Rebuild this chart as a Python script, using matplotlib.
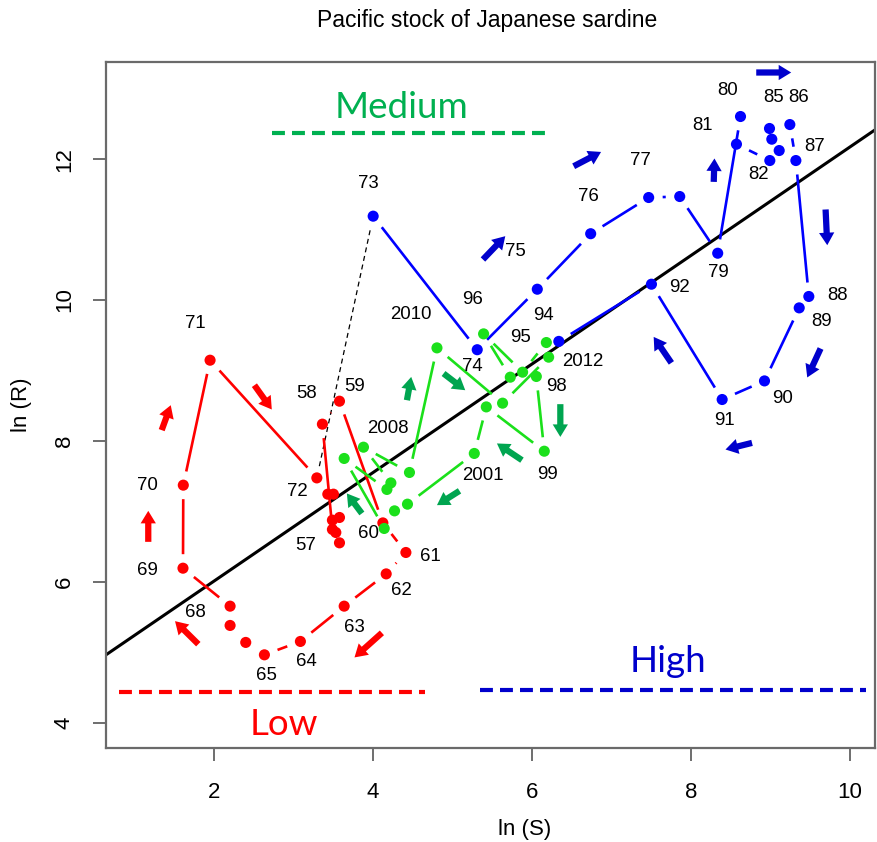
import matplotlib
matplotlib.use("Agg")
import matplotlib.pyplot as plt
import numpy as np
from matplotlib.patches import FancyArrowPatch

# ---- Pacific stock of Japanese sardine: ln(spawning stock) vs ln(recruitment) ----
# Low regime, 1951-1972
years_low = list(range(1951, 1973))
lnS_low = [3.432, 3.503, 3.579, 3.490, 3.579, 3.533, 3.490, 3.364, 3.579, 4.125, 4.415,
           4.167, 3.638, 3.087, 2.634, 2.399, 2.202, 2.202, 1.609, 1.613, 1.950, 3.294]
lnR_low = [7.244, 7.244, 6.913, 6.875, 6.553, 6.700, 6.743, 8.238, 8.564, 6.836, 6.416,
           6.112, 5.654, 5.153, 4.963, 5.139, 5.380, 5.654, 6.193, 7.372, 9.146, 7.475]

# High regime, 1973-1993
years_high = list(range(1973, 1994))
lnS_high = [4.003, 5.313, 6.069, 6.741, 7.471, 7.862, 8.340, 8.627, 8.576, 8.996, 9.114,
            9.021, 8.992, 9.248, 9.324, 9.487, 9.366, 8.929, 8.396, 7.506, 6.340]
lnR_high = [11.191, 9.295, 10.154, 10.942, 11.456, 11.470, 10.665, 12.606, 12.213, 11.981,
            12.123, 12.284, 12.436, 12.492, 11.981, 10.051, 9.889, 8.852, 8.588, 10.225, 9.413]

# Medium regime, 1994-2012
years_mid = list(range(1994, 2013))
lnS_mid = [6.183, 5.884, 5.393, 5.729, 6.057, 6.157, 5.427, 5.276, 4.435, 4.272, 4.142,
           3.638, 4.176, 4.226, 3.881, 4.460, 4.806, 5.632, 6.212]
lnR_mid = [9.397, 8.976, 9.520, 8.905, 8.915, 7.854, 8.483, 7.822, 7.102, 7.007, 6.757,
           7.751, 7.311, 7.404, 7.911, 7.552, 9.321, 8.536, 9.189]

# Stock-recruitment regression: ln(R) = a + b ln(S)
reg_a, reg_b = 4.47, 0.770

# Mean ln(R) of each regime, with the ln(S) span each reference line covers
regime_names = ["Low", "Medium", "High"]
regime_level = [4.44, 12.37, 4.46]
regime_span = [(0.80, 4.66), (2.73, 6.21), (5.35, 10.21)]
regime_text_pos = [(2.88, 3.82), (4.36, 12.58), (7.71, 4.72)]

# Year labels and their offsets (pixels) from the point
label_offsets = {
    1957: (-27, -16), 1958: (-16, 31), 1959: (15, 15), 1960: (-14, -11), 1961: (24, -4),
    1962: (15, -17), 1963: (10, -21), 1964: (6, -20), 1965: (2, -21), 1968: (-35, -6),
    1969: (-36, -2), 1970: (-36, 0), 1971: (-15, 37), 1972: (-20, -14),
    1973: (-5, 33), 1974: (-5, -17), 1975: (-22, 38), 1976: (-2, 37), 1977: (-8, 37),
    1979: (1, -19), 1980: (-13, 26), 1981: (-34, 19), 1982: (-11, -14), 1985: (4, 31),
    1986: (9, 27), 1987: (19, 14), 1988: (29, 1), 1989: (22, -14), 1990: (18, -18),
    1991: (2, -21), 1992: (28, -3),
    1994: (-3, 27), 1995: (-2, 35), 1996: (-11, 34), 1998: (20, -10), 1999: (3, -23),
    2001: (9, -22), 2008: (24, 19), 2010: (-26, 33), 2012: (34, -4),
}

# Direction arrows (tail -> head) in ln(S), ln(R) units
arrows_low = [((1.341, 8.153), (1.455, 8.507)), ((1.172, 6.567), (1.172, 7.007)),
              ((2.508, 8.791), (2.727, 8.446)), ((1.802, 5.114), (1.509, 5.441)),
              ((4.113, 5.275), (3.768, 4.926))]
arrows_mid = [((4.428, 8.578), (4.482, 8.909)), ((4.889, 8.957), (5.162, 8.720)),
              ((3.861, 6.970), (3.672, 7.254)), ((5.090, 7.291), (4.806, 7.088)),
              ((5.876, 7.727), (5.561, 7.964)), ((6.359, 8.522), (6.359, 8.057))]
arrows_high = [((5.385, 10.576), (5.666, 10.907)), ((6.527, 11.900), (6.872, 12.103)),
               ((8.825, 13.231), (9.265, 13.231)), ((8.290, 11.678), (8.299, 12.010)),
               ((9.698, 11.286), (9.719, 10.779)), ((9.635, 9.312), (9.467, 8.901)),
               ((8.772, 7.972), (8.438, 7.878)), ((7.757, 9.108), (7.534, 9.477))]

# ---- styling ----
RED = "#FF0000"
BLUE = "#0000FF"
GREEN = "#1BE01B"
GREEN_DARK = "#00A550"
GREEN_TEXT = "#00B050"
BLUE_DARK = "#0000CC"

plt.rcParams["font.family"] = ["Liberation Sans", "DejaVu Sans"]

W, H = 877, 842
fig = plt.figure(figsize=(W / 100, H / 100), dpi=100)
ax = fig.add_axes([106 / W, (H - 748) / H, (875 - 106) / W, (748 - 62) / H])
ax.set_xlim(0.64, 10.32)
ax.set_ylim(3.64, 13.38)

for sp in ax.spines.values():
    sp.set_color("#6a6a6a")
    sp.set_linewidth(1.6)

ax.set_xticks([2, 4, 6, 8, 10])
ax.set_yticks([4, 6, 8, 10, 12])
ax.tick_params(axis="both", direction="out", length=9.4, width=1.2, color="#555555",
               labelsize=16)
ax.tick_params(axis="x", pad=15)
ax.tick_params(axis="y", pad=13, labelrotation=90)
for t in ax.get_yticklabels():
    t.set_va("center")

ax.set_xlabel("ln (S)", fontsize=16, va="center")
ax.set_ylabel("ln (R)", fontsize=16, va="center")
ax.xaxis.set_label_coords((525 - 106) / 769, (748 - 829) / 686)
ax.yaxis.set_label_coords((22 - 106) / 769, 0.5)

fig.text(487 / W, 1 - 27 / H, "Pacific stock of Japanese sardine", ha="center",
         va="baseline", fontsize=16.5)

# regression line
xx = np.array(ax.get_xlim())
ax.plot(xx, reg_a + reg_b * xx, color="black", lw=2.2, zorder=2)

GAP = 14.0  # pixels left open around each point, as with R's type="b"


def gapped_segments(xs, ys, gap=GAP):
    """Return data-coordinate segments between consecutive points, trimmed near points."""
    pts = ax.transData.transform(np.column_stack([xs, ys]))
    inv = ax.transData.inverted()
    segs = []
    for p0, p1 in zip(pts[:-1], pts[1:]):
        d = np.hypot(*(p1 - p0))
        if d <= 2 * gap:
            continue
        u = (p1 - p0) / d
        a, b = inv.transform(np.vstack([p0 + gap * u, p1 - gap * u]))
        segs.append(((a[0], b[0]), (a[1], b[1])))
    return segs


def draw_series(xs, ys, color, zo):
    for sx, sy in gapped_segments(xs, ys):
        ax.plot(sx, sy, color=color, lw=1.9, solid_capstyle="butt", zorder=zo)
    ax.scatter(xs, ys, s=64, color=color, edgecolors="none", zorder=zo + 0.5)


draw_series(lnS_low, lnR_low, RED, 3)
draw_series(lnS_high, lnR_high, BLUE, 3)
draw_series(lnS_mid, lnR_mid, GREEN, 4)

# link between regimes 1972 -> 1973
for sx, sy in gapped_segments([lnS_low[-1], lnS_high[0]], [lnR_low[-1], lnR_high[0]], gap=12):
    ax.plot(sx, sy, color="black", lw=0.9, ls=(0, (4, 3)), zorder=2)

# year labels
all_years = years_low + years_high + years_mid
all_S = lnS_low + lnS_high + lnS_mid
all_R = lnR_low + lnR_high + lnR_mid
for yr, s, r in zip(all_years, all_S, all_R):
    if yr in label_offsets:
        txt = str(yr) if yr >= 2000 else f"{yr % 100:02d}"
        ax.annotate(txt, (s, r), xytext=label_offsets[yr], textcoords="offset pixels",
                    ha="center", va="center", fontsize=13.4, zorder=6)

# regime reference lines and names
regime_colors = [RED, GREEN_TEXT, BLUE_DARK]
for name, lvl, (x0, x1), (tx, ty), col in zip(regime_names, regime_level, regime_span,
                                               regime_text_pos, regime_colors):
    ax.plot([x0, x1], [lvl, lvl], color=col, lw=3.0, ls=(0, (3.1, 1.7)),
            dash_capstyle="butt", zorder=2)
    ax.text(tx, ty, name, color=col, fontsize=26.5, ha="center", va="baseline",
            family=["Lato", "DejaVu Sans"])

# direction arrows
for arrow_set, col in [(arrows_low, RED), (arrows_mid, GREEN_DARK), (arrows_high, BLUE_DARK)]:
    for tail, head in arrow_set:
        ax.add_patch(FancyArrowPatch(tail, head, arrowstyle="simple,head_length=0.9,"
                                     "head_width=1.1,tail_width=0.45",
                                     mutation_scale=10, color=col, lw=0,
                                     shrinkA=0, shrinkB=0, zorder=5))

fig.savefig("out.png", dpi=100)
